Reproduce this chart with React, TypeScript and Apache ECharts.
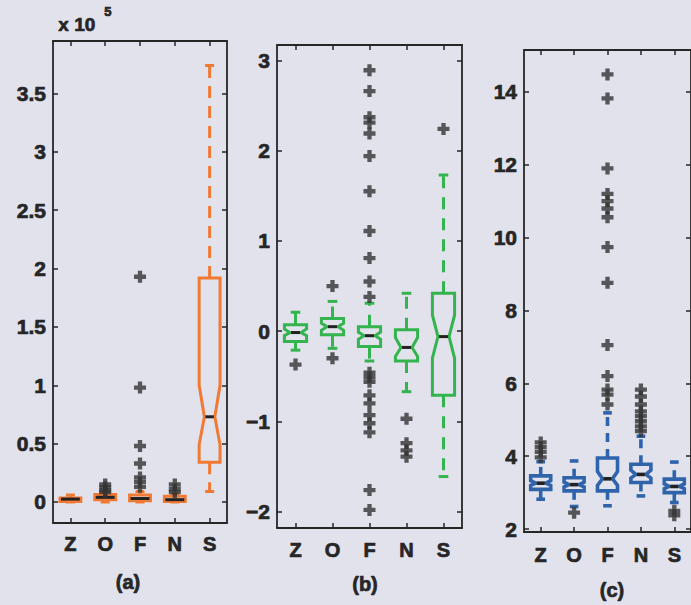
import React, { useEffect, useRef } from "react";
import * as echarts from "echarts";

// ---------- data ----------
const categories = ["Z", "O", "F", "N", "S"];

// box stats per category: [min, q1, median, q3, max, notchLow, notchHigh]
// (notchLow == notchHigh means: no visible notch)
const boxA = [
  [0, 500, 2500, 3500, 6000, 2500, 2500],
  [0, 2000, 4000, 6500, 7500, 4000, 4000],
  [0, 1000, 3000, 6000, 9000, 3000, 3000],
  [0, 500, 2000, 5000, 7000, 2000, 2000],
  [9000, 34000, 73000, 192000, 374000, 49000, 100000],
];
const outliersA = [
  [],
  [8500, 10000, 12500, 15000],
  [13000, 17000, 21000, 33000, 48000, 98000, 193000],
  [8500, 11000, 15000],
  [],
];

const boxB = [
  [-0.21, -0.115, -0.015, 0.07, 0.21, -0.05, 0.025],
  [-0.19, -0.04, 0.05, 0.14, 0.33, 0.01, 0.09],
  [-0.33, -0.17, -0.05, 0.05, 0.31, -0.09, -0.01],
  [-0.67, -0.33, -0.18, 0.015, 0.42, -0.28, -0.07],
  [-1.61, -0.71, -0.06, 0.42, 1.73, -0.3, 0.18],
];
const outliersB = [
  [-0.37],
  [-0.3, 0.5],
  [2.89, 2.66, 2.37, 2.31, 2.19, 1.94, 1.55, 1.11, 0.81, 0.55, 0.38,
    -0.46, -0.51, -0.56, -0.71, -0.8, -0.93, -1.02, -1.12, -1.76, -1.98],
  [-0.97, -1.24, -1.32, -1.39],
  [2.24],
];

const boxC = [
  [2.82, 3.09, 3.26, 3.46, 3.85, 3.2, 3.33],
  [2.62, 3.05, 3.22, 3.41, 3.87, 3.16, 3.29],
  [2.64, 3.05, 3.38, 3.95, 5.19, 3.2, 3.58],
  [2.91, 3.28, 3.5, 3.78, 4.55, 3.4, 3.62],
  [2.73, 3.0, 3.17, 3.37, 3.84, 3.11, 3.24],
];
const outliersC = [
  [3.97, 4.12, 4.25, 4.38],
  [2.45],
  [5.42, 5.69, 5.83, 6.2, 7.05, 8.76, 9.74, 10.56, 10.8, 11.0, 11.2, 11.9, 13.82, 14.48],
  [4.69, 4.82, 4.96, 5.1, 5.23, 5.42, 5.64, 5.83],
  [2.5, 2.38],
];

const ticksA = [0, 50000, 100000, 150000, 200000, 250000, 300000, 350000];
const ticksB = [-2, -1, 0, 1, 2, 3];
const ticksC = [2, 4, 6, 8, 10, 12, 14];

const panelLabels = ["(a)", "(b)", "(c)"];

// ---------- style ----------
const BG = "#e2e2ed";
const INK = "#262626";
const FONT = "Liberation Sans";
const PLUS = "path://M3.2,0H6.8V3.2H10V6.8H6.8V10H3.2V6.8H0V3.2H3.2Z";

const panels = [
  { box: boxA, out: outliersA, ticks: ticksA, min: -18000, max: 395000, color: "#f07a34", lw: 3, dash: [12, 8],
    grid: { left: 53, top: 41, width: 174, height: 482 }, fmt: (v: number) => String(v / 100000), labelMargin: 11 },
  { box: boxB, out: outliersB, ticks: ticksB, min: -2.18, max: 3.17, color: "#33b44e", lw: 3, dash: [12, 9],
    grid: { left: 277, top: 45, width: 185, height: 483 }, fmt: (v: number) => (v < 0 ? "\u2212" + Math.abs(v) : String(v)), labelMargin: 12 },
  { box: boxC, out: outliersC, ticks: ticksC, min: 1.92, max: 15.15, color: "#3064aa", lw: 3.6, dash: [9, 7],
    grid: { left: 524, top: 50, width: 167, height: 482 }, fmt: (v: number) => String(v), labelMargin: 13 },
];

function makeRender(color: string, lw: number, dashArr: number[]) {
  return (params: any, api: any) => {
    const i = api.value(0);
    const mn = api.value(1), q1 = api.value(2), md = api.value(3), q3 = api.value(4), mx = api.value(5);
    let nl = api.value(6), nh = api.value(7);
    const band = api.size([1, 0])[0];
    const cx = api.coord([i, md])[0];
    const y = (v: number) => api.coord([i, v])[1];
    const hw = band * 0.3;
    const cw = band * 0.13;
    let nw = hw;
    let pts: number[][];
    if (nh > nl) {
      nl = Math.max(nl, q1);
      nh = Math.min(nh, q3);
      nw = hw * 0.5;
      pts = [
        [cx - hw, y(q1)], [cx - hw, y(nl)], [cx - nw, y(md)], [cx - hw, y(nh)], [cx - hw, y(q3)],
        [cx + hw, y(q3)], [cx + hw, y(nh)], [cx + nw, y(md)], [cx + hw, y(nl)], [cx + hw, y(q1)],
      ];
    } else {
      pts = [[cx - hw, y(q1)], [cx - hw, y(q3)], [cx + hw, y(q3)], [cx + hw, y(q1)]];
    }
    const dash = { stroke: color, lineWidth: lw, lineDash: dashArr };
    const solid = { stroke: color, lineWidth: lw };
    return {
      type: "group",
      children: [
        { type: "line", shape: { x1: cx, y1: y(q3), x2: cx, y2: y(mx) }, style: dash },
        { type: "line", shape: { x1: cx, y1: y(q1), x2: cx, y2: y(mn) }, style: dash },
        { type: "line", shape: { x1: cx - cw, y1: y(mx), x2: cx + cw, y2: y(mx) }, style: solid },
        { type: "line", shape: { x1: cx - cw, y1: y(mn), x2: cx + cw, y2: y(mn) }, style: solid },
        { type: "polygon", shape: { points: pts }, style: { fill: "none", stroke: color, lineWidth: lw, lineJoin: "miter" } },
        { type: "line", shape: { x1: cx - nw + 1, y1: y(md), x2: cx + nw - 1, y2: y(md) }, style: { stroke: "#222", lineWidth: lw } },
      ],
    };
  };
}

export default function App() {
  const ref = useRef<HTMLDivElement>(null);
  useEffect(() => {
    if (!ref.current) return;
    const chart = echarts.init(ref.current, null, { renderer: "svg" });
    const grids: any[] = [];
    const xAxes: any[] = [];
    const yAxes: any[] = [];
    const series: any[] = [];
    const axisLine = { show: true, onZero: false, lineStyle: { color: INK, width: 1.8 } };
    const tick = { show: true, inside: true, length: 5, lineStyle: { color: INK, width: 1.5 } };
    const label = { color: INK, fontFamily: FONT, fontWeight: "bold", textBorderColor: INK, textBorderWidth: 0.7 };
    panels.forEach((p, g) => {
      grids.push({ ...p.grid, containLabel: false });
      xAxes.push({
        type: "category", gridIndex: g, data: categories, position: "bottom",
        axisLine, axisTick: { ...tick, alignWithLabel: true },
        axisLabel: { ...label, fontSize: 20, margin: p.labelMargin },
        splitLine: { show: false },
      });
      xAxes.push({
        type: "category", gridIndex: g, data: categories, position: "top",
        axisLine, axisTick: { ...tick, alignWithLabel: true },
        axisLabel: { show: false }, splitLine: { show: false },
      });
      yAxes.push({
        type: "value", gridIndex: g, min: p.min, max: p.max, position: "left",
        axisLine, axisTick: { ...tick, customValues: p.ticks },
        axisLabel: { ...label, fontSize: 21, margin: 7, customValues: p.ticks, formatter: p.fmt },
        splitLine: { show: false },
      });
      yAxes.push({
        type: "value", gridIndex: g, min: p.min, max: p.max, position: "right",
        axisLine, axisTick: { ...tick, customValues: p.ticks },
        axisLabel: { show: false }, splitLine: { show: false },
      });
      series.push({
        type: "custom", xAxisIndex: 2 * g, yAxisIndex: 2 * g,
        renderItem: makeRender(p.color, p.lw, p.dash),
        encode: { x: 0, y: [1, 2, 3, 4, 5] },
        data: p.box.map((b, i) => [i, ...b]),
        z: 2,
      });
      const pts: number[][] = [];
      p.out.forEach((arr, i) => arr.forEach((v) => pts.push([i, v])));
      series.push({
        type: "scatter", xAxisIndex: 2 * g, yAxisIndex: 2 * g,
        symbol: PLUS, symbolSize: 12, itemStyle: { color: "#333333" },
        data: pts, z: 3,
      });
    });
    const txt = (text: string, size: number) => ({
      text, fill: INK, fontFamily: FONT, fontWeight: "bold", fontSize: size, stroke: INK, lineWidth: 0.7,
    });
    chart.setOption({
      animation: false,
      backgroundColor: BG,
      grid: grids,
      xAxis: xAxes,
      yAxis: yAxes,
      series,
      graphic: [
        { type: "text", left: 58, top: 15, style: txt("x 10", 19) },
        { type: "text", left: 104, top: 5, style: txt("5", 13) },
        { type: "text", x: 128, y: 582, style: { ...txt(panelLabels[0], 20), textAlign: "center", textVerticalAlign: "middle" } },
        { type: "text", x: 365, y: 584, style: { ...txt(panelLabels[1], 20), textAlign: "center", textVerticalAlign: "middle" } },
        { type: "text", x: 612, y: 590, style: { ...txt(panelLabels[2], 20), textAlign: "center", textVerticalAlign: "middle" } },
      ],
    });
    return () => chart.dispose();
  }, []);
  return (
    <div style={{ position: "fixed", left: 0, top: 0, width: 691, height: 605, background: BG }}>
      <div ref={ref} style={{ width: 691, height: 605 }} />
    </div>
  );
}
